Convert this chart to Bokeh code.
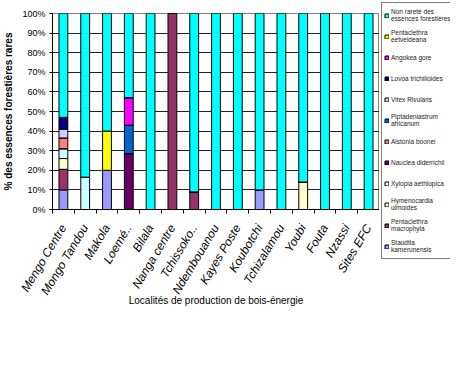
import math
from bokeh.plotting import figure
from bokeh.layouts import row
from bokeh.models import (Range1d, FixedTicker, Legend, LegendItem)
from bokeh.embed import file_html
from bokeh.resources import INLINE

cats = ["Mengo Centre", "Mongo Tandou", "Makola", "Loemé..", "Bilala", "Nanga centre",
        "Tchissoko..", "Ndembouanou", "Kayes Poste", "Koubotchi", "Tchizalamou", "Youbi",
        "Fouta", "Nzassi", "Sites EFC"]

# stacked from bottom to top
staudtia = [10, 0, 20, 0, 0, 0, 0, 0, 0, 10, 0, 0, 0, 0, 0]
p_macro = [10.5, 0, 0, 0, 0, 100, 9, 0, 0, 0, 0, 0, 0, 0, 0]
hymeno = [5.5, 0, 0, 0, 0, 0, 0, 0, 0, 0, 0, 14, 0, 0, 0]
xylopia = [5, 16.5, 0, 0, 0, 0, 0, 0, 0, 0, 0, 0, 0, 0, 0]
nauclea = [0, 0, 0, 28.5, 0, 0, 0, 0, 0, 0, 0, 0, 0, 0, 0]
alstonia = [5.5, 0, 0, 0, 0, 0, 0, 0, 0, 0, 0, 0, 0, 0, 0]
pipta = [0, 0, 0, 14.5, 0, 0, 0, 0, 0, 0, 0, 0, 0, 0, 0]
vitex = [4.5, 0, 0, 0, 0, 0, 0, 0, 0, 0, 0, 0, 0, 0, 0]
lovoa = [6, 0, 0, 0, 0, 0, 0, 0, 0, 0, 0, 0, 0, 0, 0]
angokea = [0, 0, 0, 14, 0, 0, 0, 0, 0, 0, 0, 0, 0, 0, 0]
p_eetv = [0, 0, 20, 0, 0, 0, 0, 0, 0, 0, 0, 0, 0, 0, 0]
non_rare = [53, 83.5, 60, 43, 100, 0, 91, 100, 100, 90, 100, 86, 100, 100, 100]

series_keys = ["staudtia", "p_macro", "hymeno", "xylopia", "nauclea", "alstonia",
               "pipta", "vitex", "lovoa", "angokea", "p_eetv", "non_rare"]
series_vals = [staudtia, p_macro, hymeno, xylopia, nauclea, alstonia,
               pipta, vitex, lovoa, angokea, p_eetv, non_rare]
series_labels = ["Staudtia\nkamerunensis", "Pentaclethra\nmacrophyla", "Hymenocardia\nulmoides",
                 "Xylopia aethiopica", "Nauclea diderrichii", "Alstonia boonei",
                 "Piptadeniastrum\nafricanum", "Vitex Rivularis", "Lovoa trichilioides",
                 "Angokea gore", "Pentaclethra\neetveldeana", "Non rareté des\nessences forestières"]
series_colors = ["#9999FF", "#993366", "#FFFFCC", "#CCFFFF", "#660066", "#FF8080",
                 "#0066CC", "#CCCCFF", "#000080", "#FF00FF", "#FFFF00", "#00FFFF"]

y_ticks = [0, 10, 20, 30, 40, 50, 60, 70, 80, 90, 100]

FONT = "Liberation Sans"

xs = list(range(len(cats)))
data = {"x": xs}
for k, v in zip(series_keys, series_vals):
    data[k] = v

p = figure(width=379, height=365, output_backend="svg", toolbar_location=None,
           x_range=Range1d(-0.5, len(cats) - 0.5), y_range=Range1d(0, 100),
           min_border_left=46, min_border_right=0, min_border_top=13, min_border_bottom=156)
p.background_fill_color = "white"
p.border_fill_color = "white"
p.outline_line_color = "#808080"

rs = p.vbar_stack(series_keys, x="x", width=0.405, source=data, fill_color=series_colors,
                  line_color="black", line_width=1)

# x axis
p.xaxis.ticker = FixedTicker(ticks=xs, minor_ticks=[i - 0.5 for i in range(len(cats) + 1)])
p.xaxis.major_label_overrides = {i: c for i, c in enumerate(cats)}
p.xaxis.major_tick_out = 0
p.xaxis.major_tick_in = 0
p.xaxis.minor_tick_out = 4
p.xaxis.minor_tick_in = 0
p.xaxis.minor_tick_line_color = "black"
p.xaxis.axis_line_color = "black"
p.xaxis.major_label_orientation = math.radians(59)
p.xaxis.major_label_text_font = FONT
p.xaxis.major_label_text_font_style = "italic"
p.xaxis.major_label_text_font_size = "12px"
p.xaxis.major_label_text_color = "black"
p.xaxis.major_label_standoff = 12
p.xaxis.axis_label = "Localités de production de bois-énergie"
p.xaxis.axis_label_text_font = FONT
p.xaxis.axis_label_text_font_size = "10px"
p.xaxis.axis_label_text_font_style = "normal"
p.xaxis.axis_label_text_color = "black"
p.xaxis.axis_label_standoff = -9

# y axis
p.yaxis.ticker = FixedTicker(ticks=y_ticks, minor_ticks=[])
p.yaxis.major_label_overrides = {t: f"{t}%" for t in y_ticks}
p.yaxis.major_tick_out = 3
p.yaxis.major_tick_in = 0
p.yaxis.major_tick_line_color = "black"
p.yaxis.axis_line_color = "black"
p.yaxis.major_label_text_font = FONT
p.yaxis.major_label_text_font_size = "9px"
p.yaxis.major_label_text_color = "black"
p.yaxis.major_label_standoff = 4
p.yaxis.axis_label = "% des essences forestières rares"
p.yaxis.axis_label_text_font = FONT
p.yaxis.axis_label_text_font_size = "10px"
p.yaxis.axis_label_text_font_style = "bold"
p.yaxis.axis_label_text_color = "black"
p.yaxis.axis_label_standoff = 5

p.xgrid.visible = False
p.ygrid.ticker = FixedTicker(ticks=y_ticks)
p.ygrid.grid_line_color = "#222222"
p.ygrid.grid_line_width = 1

# legend panel (separate figure to the right; swatches drawn from the same colours)
lg = figure(width=71, height=365, output_backend="svg", toolbar_location=None,
            x_range=Range1d(0, 1), y_range=Range1d(0, 1),
            min_border=0, x_axis_type=None, y_axis_type=None)
for fig in (p, lg):
    if "frame_align" in fig.properties():
        fig.frame_align = False
lg.outline_line_color = None
lg.background_fill_color = "white"
lg.border_fill_color = "white"
lg.xgrid.visible = False
lg.ygrid.visible = False
# swatch renderers hold a point outside the visible range (only their legend glyph shows)
swatches = [lg.vbar(x=[5], top=[5], bottom=[4], width=0.5, fill_color=c,
                    line_color="black", line_width=1)
            for c in series_colors]
items = [LegendItem(label=lab, renderers=[r]) for lab, r in zip(series_labels, swatches)][::-1]
legend = Legend(items=items, location="top_left", border_line_color="black",
                border_line_width=1, background_fill_color="white", background_fill_alpha=1,
                label_text_font=FONT, label_text_font_size="6.5px", label_text_color="#222222",
                glyph_width=5, glyph_height=5, label_standoff=2, padding=2, spacing=1,
                label_height=20, margin=2)
lg.add_layout(legend)

layout = row(p, lg, spacing=0)
open("out.html", "w").write(file_html(layout, INLINE))
